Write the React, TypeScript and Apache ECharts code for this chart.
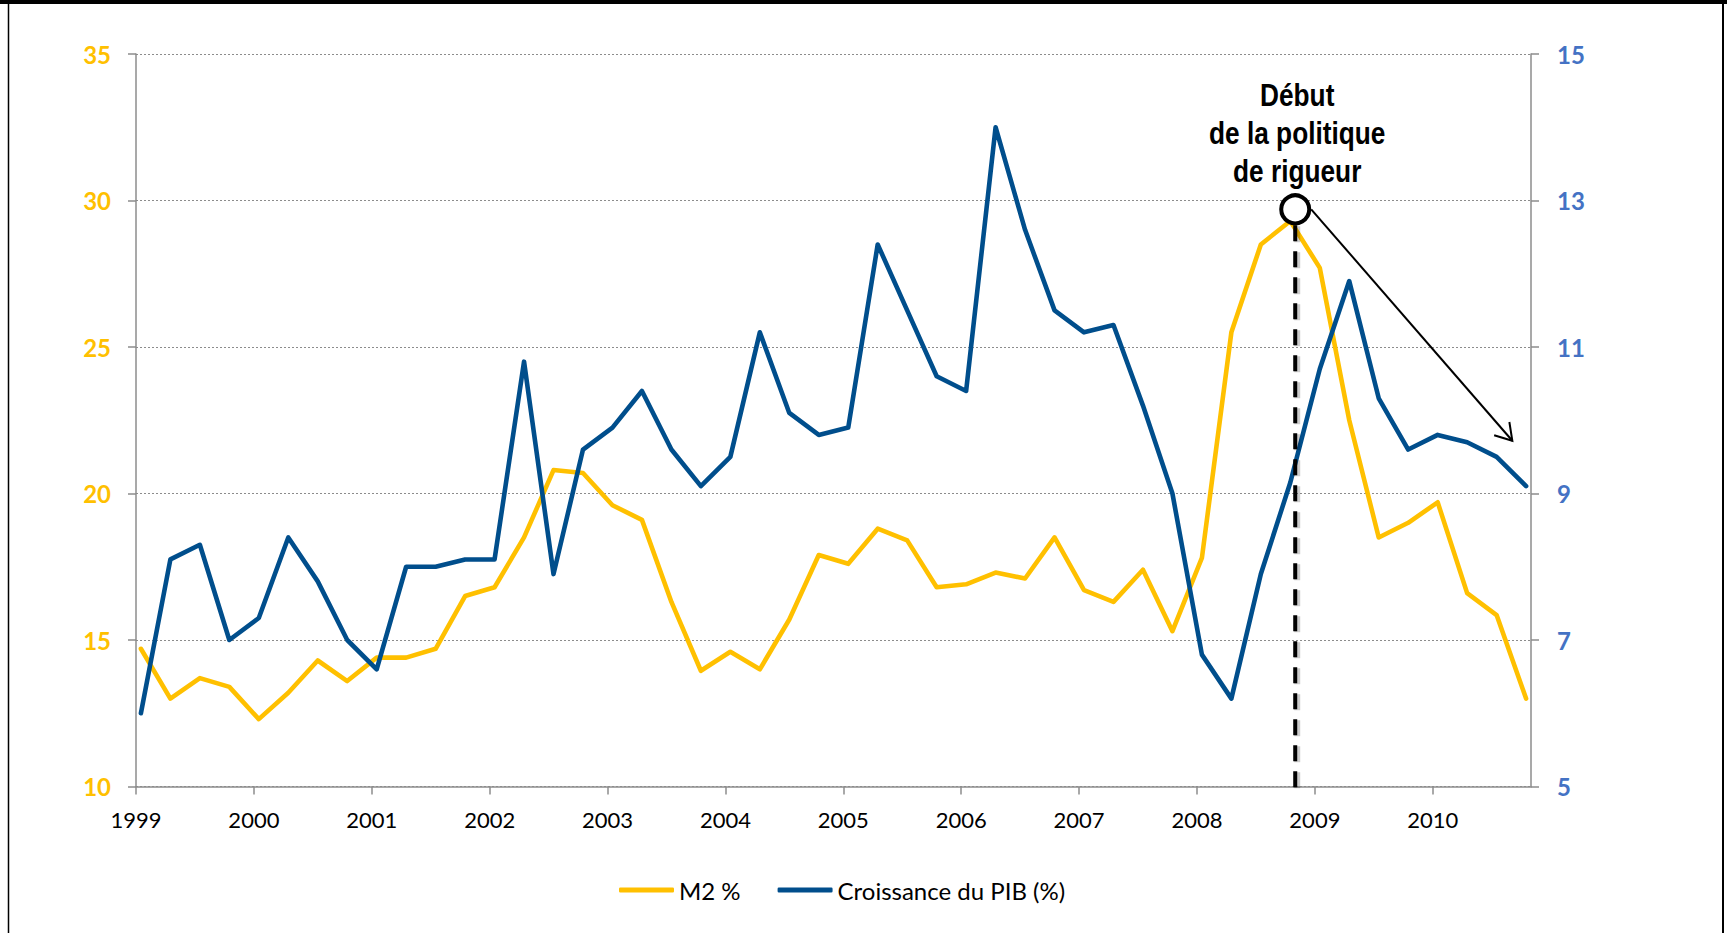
import React, { useEffect, useRef } from 'react';
import * as echarts from 'echarts';

// Quarterly series, 1999 Q1 – 2010 Q4
const YEARS = ['1999', '2000', '2001', '2002', '2003', '2004', '2005', '2006', '2007', '2008', '2009', '2010'];

const M2 = [
  14.7, 13.0, 13.7, 13.4, 12.3, 13.2, 14.3, 13.6, 14.4, 14.4, 14.7, 16.5,
  16.8, 18.5, 20.8, 20.7, 19.6, 19.1, 16.3, 13.95, 14.6, 14.0, 15.7, 17.9,
  17.6, 18.8, 18.4, 16.8, 16.9, 17.3, 17.1, 18.5, 16.7, 16.3, 17.4, 15.3,
  17.8, 25.5, 28.5, 29.3, 27.7, 22.5, 18.5, 19.0, 19.7, 16.6, 15.85, 13.0,
];

const PIB = [
  6.0, 8.1, 8.3, 7.0, 7.3, 8.4, 7.8, 7.0, 6.6, 8.0, 8.0, 8.1,
  8.1, 10.8, 7.9, 9.6, 9.9, 10.4, 9.6, 9.1, 9.5, 11.2, 10.1, 9.8,
  9.9, 12.4, 11.5, 10.6, 10.4, 14.0, 12.6, 11.5, 11.2, 11.3, 10.2, 9.0,
  6.8, 6.2, 7.9, 9.15, 10.7, 11.9, 10.3, 9.6, 9.8, 9.7, 9.5, 9.1,
];

const SERIES_NAMES = ['M2 %', 'Croissance du PIB (%)'];
const COLORS = ['#FFC000', '#004E8C'];

// Time axis counted in months from January 1999 to the end of October 2010
const MONTHS_SPAN = 142;
const YEAR_TICKS = YEARS.map((_, i) => i * 12);

// Annotation: start of the austerity policy (1 November 2008), marker level on the M2 axis
const RIGUEUR_MONTH = 118;
const RIGUEUR_LEVEL = 29.7;
const RIGUEUR_TEXT = 'Début\nde la politique\nde rigueur';
const ARROW_END: [number, number] = [140.1, 21.8];

// quarter i is plotted in the middle of its first month
const toMonthPoints = (values: number[]) => values.map((v, i) => [i * 3 + 0.5, v]);

const AXIS_GREY = '#8c8c8c';

export default function App() {
  const ref = useRef<HTMLDivElement>(null);

  useEffect(() => {
    if (!ref.current) return;
    const chart = echarts.init(ref.current, null, { renderer: 'svg' });

    const axisLine = { show: true, onZero: false, lineStyle: { color: AXIS_GREY, width: 1.5 } };
    const axisTick = { show: true, length: 8, lineStyle: { color: AXIS_GREY, width: 1.5 } };

    chart.setOption({
      animation: false,
      backgroundColor: '#ffffff',
      textStyle: { fontFamily: 'Lato, "Noto Sans", sans-serif' },
      grid: { left: 136, top: 54, width: 1395, height: 732.5 },
      xAxis: {
        type: 'value',
        min: 0,
        max: MONTHS_SPAN,
        interval: 12,
        axisLine,
        axisTick: { ...axisTick, customValues: YEAR_TICKS },
        axisLabel: {
          customValues: YEAR_TICKS,
          formatter: (v: number) => YEARS[Math.round(v / 12)] ?? '',
          color: '#000',
          fontSize: 22,
          margin: 22,
        },
        splitLine: { show: false },
      },
      yAxis: [
        {
          type: 'value',
          min: 10,
          max: 35,
          interval: 5,
          position: 'left',
          axisLine,
          axisTick,
          axisLabel: { color: '#FFC000', fontWeight: 'bold', fontSize: 24, margin: 25 },
          splitLine: { show: true, lineStyle: { color: AXIS_GREY, width: 1.2, type: [2, 2] } },
        },
        {
          type: 'value',
          min: 5,
          max: 15,
          interval: 2,
          position: 'right',
          axisLine,
          axisTick,
          axisLabel: { color: '#4472C4', fontWeight: 'bold', fontSize: 24, margin: 26 },
          splitLine: { show: false },
        },
      ],
      legend: {
        left: 619,
        top: 878,
        padding: 0,
        itemWidth: 55,
        itemHeight: 5,
        itemGap: 37,
        icon: 'roundRect',
        itemStyle: { borderWidth: 0 },
        textStyle: { fontSize: 24, color: '#000' },
        data: SERIES_NAMES,
      },
      series: [
        {
          name: SERIES_NAMES[0],
          type: 'line',
          yAxisIndex: 0,
          data: toMonthPoints(M2),
          symbol: 'none',
          showSymbol: false,
          lineStyle: { color: COLORS[0], width: 4.6, join: 'round', cap: 'round' },
          itemStyle: { color: COLORS[0] },
        },
        {
          name: SERIES_NAMES[1],
          type: 'line',
          yAxisIndex: 1,
          data: toMonthPoints(PIB),
          symbol: 'none',
          showSymbol: false,
          lineStyle: { color: COLORS[1], width: 4.6, join: 'round', cap: 'round' },
          itemStyle: { color: COLORS[1] },
        },
      ],
    });

    // Annotation placed from data coordinates of the M2 axis
    const toPx = (p: number[]) => chart.convertToPixel({ seriesIndex: 0 }, p) as number[];
    const [cx, cy] = toPx([RIGUEUR_MONTH, RIGUEUR_LEVEL]);
    const [, yBase] = toPx([RIGUEUR_MONTH, 10]);
    const [ax, ay] = toPx(ARROW_END);
    const sx = cx + 16;
    const sy = cy;
    const len = Math.hypot(ax - sx, ay - sy);
    const bx = (sx - ax) / len;
    const by = (sy - ay) / len;
    const arm = (deg: number) => {
      const r = (deg * Math.PI) / 180;
      return [ax + 19 * (bx * Math.cos(r) - by * Math.sin(r)), ay + 19 * (bx * Math.sin(r) + by * Math.cos(r))];
    };
    const dash = [16, 10];

    chart.setOption({
      graphic: [
        { type: 'rect', z: 100, silent: true, shape: { x: 0, y: 0, width: 1727, height: 4 }, style: { fill: '#000' } },
        { type: 'line', z: 100, silent: true, shape: { x1: 8.5, y1: 0, x2: 8.5, y2: 933 }, style: { stroke: '#000', lineWidth: 1.5 } },
        { type: 'line', z: 100, silent: true, shape: { x1: 1723, y1: 0, x2: 1723, y2: 933 }, style: { stroke: '#000', lineWidth: 2 } },
        // soft shadow of the dashed marker
        {
          type: 'line',
          z: 99,
          silent: true,
          shape: { x1: cx + 2, y1: cy + 17, x2: cx + 2, y2: yBase + 3 },
          style: { stroke: 'rgba(0,0,0,0.2)', lineWidth: 6, lineDash: dash },
        },
        {
          type: 'line',
          z: 100,
          silent: true,
          shape: { x1: cx, y1: cy + 16, x2: cx, y2: yBase + 2 },
          style: { stroke: '#000', lineWidth: 4, lineDash: dash },
        },
        { type: 'circle', z: 101, silent: true, shape: { cx, cy, r: 14 }, style: { fill: '#fff', stroke: '#000', lineWidth: 4 } },
        { type: 'line', z: 100, silent: true, shape: { x1: sx, y1: sy, x2: ax, y2: ay }, style: { stroke: '#000', lineWidth: 2 } },
        {
          type: 'polyline',
          z: 100,
          silent: true,
          shape: { points: [arm(32), [ax, ay], arm(-32)] },
          style: { stroke: '#000', lineWidth: 2, fill: null },
        },
        {
          type: 'text',
          z: 101,
          silent: true,
          x: cx + 2,
          y: cy - 76,
          scaleX: 0.82,
          style: {
            text: RIGUEUR_TEXT,
            font: 'bold 32px "Liberation Sans", Arial, sans-serif',
            fill: '#000',
            align: 'center',
            verticalAlign: 'middle',
            lineHeight: 38,
          },
        },
      ],
    });

    return () => chart.dispose();
  }, []);

  return (
    <div
      ref={ref}
      style={{ position: 'absolute', left: 0, top: 0, width: 1727, height: 933, background: '#fff' }}
    />
  );
}
